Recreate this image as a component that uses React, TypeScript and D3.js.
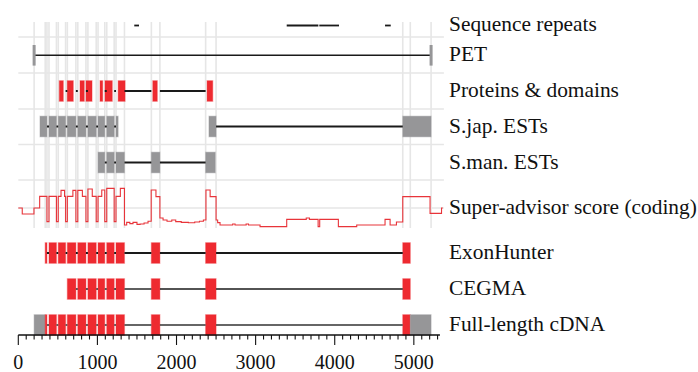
import * as d3 from 'd3'

// gene model (bp)
const exons: [number, number][] = [
  [200, 362], [388, 482], [505, 598], [620, 728], [752, 855], [880, 985],
  [1008, 1093], [1118, 1212], [1235, 1342], [1682, 1790], [2368, 2500], [4860, 5218],
]
const cds: [number, number] = [340, 4955]

const repeats: [number, number][] = [[1466, 1526], [3393, 3793], [3805, 4054], [4636, 4708]]
const petEnds = [200, 5218]

const proteinBlocks: [number, number][] = [
  [518, 569], [619, 695], [780, 834], [856, 932], [1033, 1067], [1096, 1188],
  [1262, 1350], [1700, 1757], [2386, 2458],
]
const proteinHits: [number, number][] = [[518, 932], [1033, 2458]]
const sjapHits: [number, number][] = [[274, 1262], [2410, 5218]]
const smanHits: [number, number][] = [[1008, 2490]]
const exonHunterHits: [number, number][] = [[340, 4955]]
const cegmaHits: [number, number][] = [[620, 4955]]
const cdnaHits: [number, number][] = [[200, 5218]]

// super-advisor score, step starts (bp, score)
const scoreSteps: [number, number][] = [
  [0, 0], [50, -0.3], [198, 0], [270, 0.58], [362, -0.68], [388, 0.58], [482, -0.68],
  [505, 0.58], [540, 0.88], [585, 0.58], [598, -0.68], [620, 0.58], [690, 0.88],
  [728, -0.68], [752, 0.88], [810, 0.58], [855, -0.68], [880, 0.95], [935, 0.58],
  [985, -0.68], [1008, 0.58], [1055, 0.9], [1093, -0.68], [1118, 0.98], [1212, -0.68],
  [1235, 0.58], [1290, 0.98], [1342, -0.85], [1370, -0.72], [1410, -0.78], [1450, -0.72],
  [1500, -0.82], [1540, -0.8], [1590, -0.75], [1640, -0.66], [1680, 0.9], [1740, 0.57],
  [1790, -0.5], [1830, -0.6], [1880, -0.66], [1940, -0.6], [1990, -0.68], [2060, -0.72],
  [2150, -0.74], [2230, -0.7], [2290, -0.66], [2340, -0.6], [2372, 0.9], [2425, 0.57],
  [2500, -0.6], [2520, -0.73], [2550, -0.85], [2710, -0.8], [2740, -0.85], [2880, -0.8],
  [2910, -0.85], [3056, -0.93], [3393, -0.57], [3640, -0.5], [3680, -0.57], [3790, -0.93],
  [3810, -0.57], [4046, -0.93], [4278, -0.85], [4636, -0.57], [4700, -0.85], [4780, -0.7],
  [4860, 0.57], [5205, -0.27], [5350, 0], [5366, 0],
]

const trackLabels = [
  'Sequence repeats', 'PET', 'Proteins & domains', 'S.jap. ESTs', 'S.man. ESTs',
  'Super-advisor score (coding)', 'ExonHunter', 'CEGMA', 'Full-length cDNA',
]
const majorTicks = d3.range(0, 5001, 1000)
const minorTicks = d3.range(0, 5301, 100)

const RED = '#ee2a30'
const GRAY = '#969698'
const GRID = '#e6e6e6'
const FONT = "'Liberation Serif', 'Times New Roman', Times, 'DejaVu Serif', serif"

const rowY = [25.5, 55.3, 91, 126.5, 162.5, 208, 253, 289, 325]
const labelY = [31, 61.3, 97.2, 132.7, 168.5, 213.5, 259.2, 295, 330.8]
const hLines = [37, 73, 109, 144.5, 180, 208]
const blockH = 20.6

const x = d3.scaleLinear().domain([0, 5380]).range([18.3, 443.9])
const yScore = d3.scaleLinear().domain([-1, 1]).range([228, 188])

const clip = (a: [number, number], b: [number, number]): [number, number] | null => {
  const s = Math.max(a[0], b[0])
  const e = Math.min(a[1], b[1])
  return e > s ? [s, e] : null
}

const introns: [number, number][] = exons.slice(1).map((ex, i) => [exons[i][1], ex[0]])

type Block = { s: number; e: number; color: string }

const modelBlocks = (hits: [number, number][], mode: 'red' | 'gray' | 'cds'): Block[] => {
  const out: Block[] = []
  hits.forEach(hit => {
    exons.forEach(ex => {
      const c = clip(ex, hit)
      if (!c) return
      if (mode !== 'cds') {
        out.push({ s: c[0], e: c[1], color: mode === 'red' ? RED : GRAY })
        return
      }
      const parts: [number, number, string][] = [
        [c[0], Math.min(c[1], cds[0]), GRAY],
        [Math.max(c[0], cds[0]), Math.min(c[1], cds[1]), RED],
        [Math.max(c[0], cds[1]), c[1], GRAY],
      ]
      parts.forEach(([s, e, color]) => {
        if (e > s) out.push({ s, e, color })
      })
    })
  })
  return out
}

const hitIntrons = (hits: [number, number][]) =>
  hits.flatMap(hit => introns.map(i => clip(i, hit)).filter(Boolean) as [number, number][])

const Track = ({ y, blocks, lines, lineWidth = 2, lineColor = '#1a1a1a' }: {
  y: number; blocks: Block[]; lines: [number, number][]; lineWidth?: number; lineColor?: string
}) => (
  <g>
    {blocks.map((b, i) => (
      <rect
        key={i}
        x={x(b.s)}
        y={y - blockH / 2}
        width={x(b.e) - x(b.s)}
        height={blockH}
        fill={b.color}
        stroke={b.color}
        strokeOpacity={0.35}
        strokeWidth={1.2}
      />
    ))}
    {lines.map((l, i) => (
      <line key={i} x1={x(l[0])} x2={x(l[1])} y1={y} y2={y} stroke={lineColor} strokeWidth={lineWidth} />
    ))}
  </g>
)

export default function App() {
  const gridX = Array.from(new Set([...exons.flat(), ...cds])).sort((a, b) => a - b)
  const scoreLine = d3
    .line<[number, number]>()
    .x(d => x(d[0]))
    .y(d => yScore(d[1]))
    .curve(d3.curveStepAfter)

  return (
    <svg
      width={698}
      height={372}
      style={{ position: 'absolute', left: 0, top: 0, background: 'white', fontFamily: FONT }}
    >
      {/* grid */}
      {gridX.map(v => (
        <line key={v} x1={x(v)} x2={x(v)} y1={22} y2={228} stroke={GRID} strokeWidth={1.6} />
      ))}
      {hLines.map(h => (
        <line key={h} x1={x(0)} x2={x(5380)} y1={h} y2={h} stroke={GRID} strokeWidth={1.6} />
      ))}

      {/* sequence repeats */}
      {repeats.map((r, i) => (
        <line key={i} x1={x(r[0])} x2={x(r[1])} y1={rowY[0]} y2={rowY[0]} stroke="#1a1a1a" strokeWidth={1.8} />
      ))}

      {/* PET */}
      <line x1={x(petEnds[0])} x2={x(petEnds[1])} y1={rowY[1]} y2={rowY[1]} stroke="#1a1a1a" strokeWidth={1.5} />
      {petEnds.map(p => (
        <rect key={p} x={x(p) - 1.5} y={rowY[1] - 10.3} width={3} height={20.6} fill={GRAY} />
      ))}

      {/* proteins & domains */}
      <Track
        y={rowY[2]}
        blocks={proteinBlocks.map(([s, e]) => ({ s, e, color: RED }))}
        lines={hitIntrons(proteinHits)}
      />
      <Track y={rowY[3]} blocks={modelBlocks(sjapHits, 'gray')} lines={hitIntrons(sjapHits)} />
      <Track y={rowY[4]} blocks={modelBlocks(smanHits, 'gray')} lines={hitIntrons(smanHits)} />

      {/* score */}
      <path d={scoreLine(scoreSteps) ?? ''} fill="none" stroke="#e8343a" strokeWidth={1.1} />

      <Track y={rowY[6]} blocks={modelBlocks(exonHunterHits, 'red')} lines={hitIntrons(exonHunterHits)} />
      <Track
        y={rowY[7]}
        blocks={modelBlocks(cegmaHits, 'red')}
        lines={hitIntrons(cegmaHits)}
        lineWidth={1.4}
      />
      <Track
        y={rowY[8]}
        blocks={modelBlocks(cdnaHits, 'cds')}
        lines={hitIntrons(cdnaHits)}
        lineWidth={1.5}
        lineColor="#333"
      />

      {/* axis */}
      <g>
        <line x1={x(0)} x2={x(5330)} y1={335} y2={335} stroke="#111" strokeWidth={1.3} />
        {minorTicks.map(t => (
          <line
            key={t}
            x1={x(t)}
            x2={x(t)}
            y1={335}
            y2={t % 1000 === 0 ? 345 : 339.5}
            stroke="#111"
            strokeWidth={1.1}
          />
        ))}
        {majorTicks.map(t => (
          <text key={t} x={x(t)} y={369} fontSize={20} textAnchor="middle" fill="#111" style={{ fontFamily: FONT }}>
            {t}
          </text>
        ))}
      </g>

      {/* labels */}
      {trackLabels.map((l, i) => (
        <text key={l} x={449} y={labelY[i]} fontSize={21.4} fill="#111" style={{ fontFamily: FONT }}>
          {l}
        </text>
      ))}
    </svg>
  )
}
